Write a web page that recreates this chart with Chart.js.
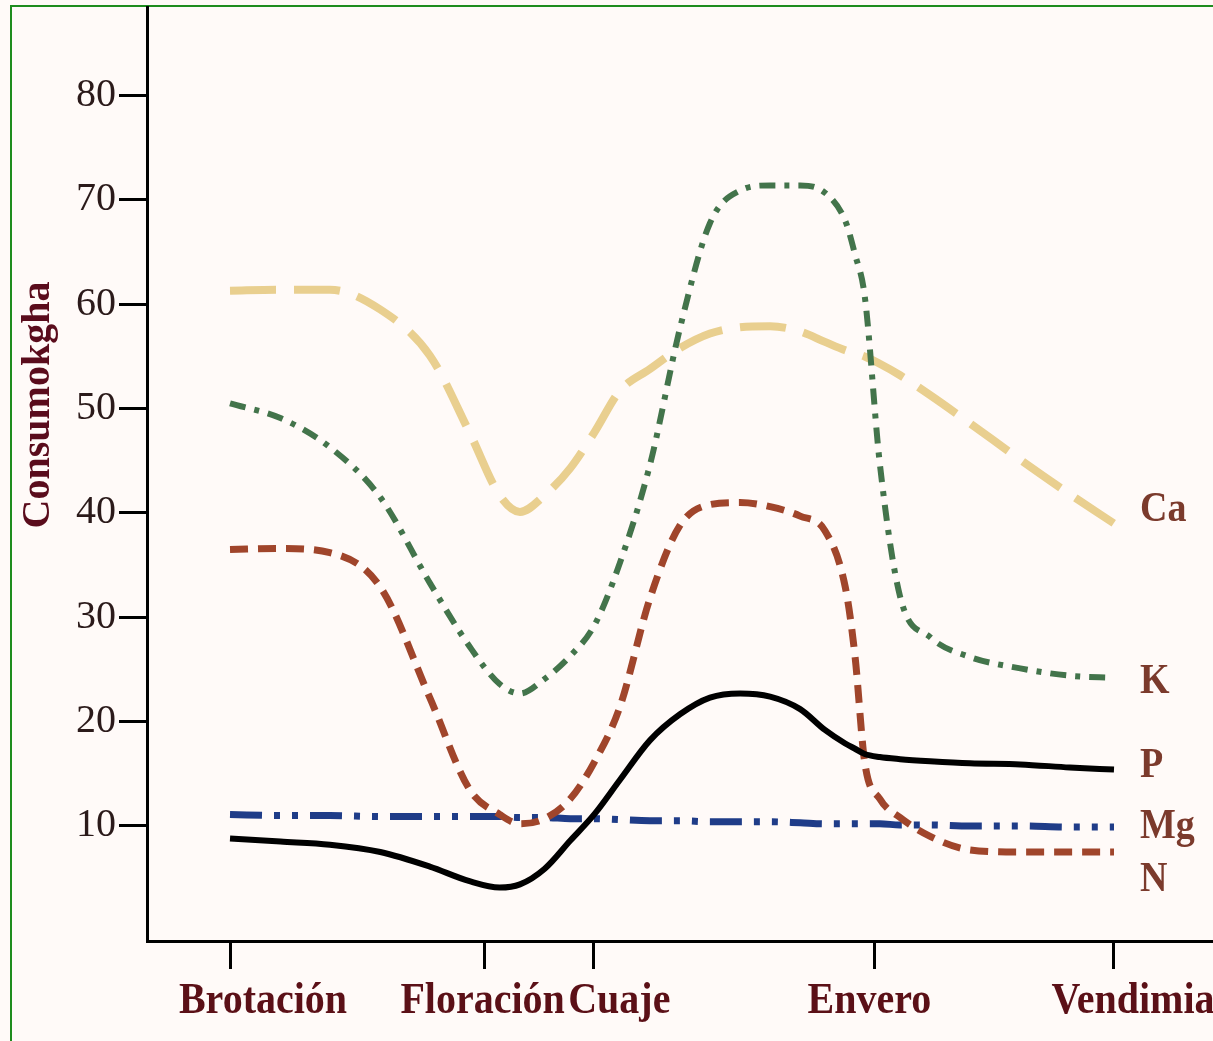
<!DOCTYPE html>
<html>
<head>
<meta charset="utf-8">
<title>Consumo de nutrientes</title>
<script src="https://cdn.jsdelivr.net/npm/chart.js@4.4.1/dist/chart.umd.min.js"></script>
<style>
  html, body { margin: 0; padding: 0; background: #fffaf8; }
  #mychart { display: block; }
</style>
</head>
<body>
<canvas id="mychart" width="1213" height="1041"></canvas>
<script>
//. stages of the cycle (x axis)
var stageNames = [ 'Brotación', 'Floración', 'Cuaje', 'Envero', 'Vendimia' ];
var stagePos = [ 0, 28.8, 41.1, 72.9, 100 ];
var yTicks = [ 10, 20, 30, 40, 50, 60, 70, 80 ];

//. sample positions along the cycle, shared by all series
var sampleX = [ 0, 5.7, 11.3, 17.0, 22.6, 27.1, 30.5, 32.8, 35.6, 38.5, 41.2, 44.1, 47.5, 50.9, 54.3,
  57.7, 61.1, 64.5, 67.3, 69.6, 70.7, 71.8, 73.5, 75.8, 79.2, 83.7, 89.4, 95.0, 100 ];

var caValues = [ 61.3, 61.4, 61.4, 59.5, 55.1, 47.7, 41.7, 40.1, 41.7, 44.3, 47.7, 51.7, 53.8, 55.8, 57.2,
  57.8, 57.9, 57.4, 56.4, 55.6, 55.3, 55.0, 54.3, 53.2, 51.3, 48.6, 45.1, 41.8, 39.0 ];
var kValues = [ 50.5, 49.1, 46.3, 41.5, 33.3, 27.2, 23.6, 22.7, 24.1, 26.3, 29.2, 35.2, 44.6, 57.7, 67.8,
  70.9, 71.4, 71.4, 70.7, 68.0, 64.8, 60.8, 44.8, 32.0, 28.1, 26.2, 25.1, 24.4, 24.2 ];
var nValues = [ 36.5, 36.6, 36.2, 32.9, 22.3, 13.5, 11.1, 10.2, 10.7, 12.6, 16.1, 21.4, 31.8, 38.8, 40.8,
  41.0, 40.6, 39.7, 38.3, 32.9, 26.3, 16.1, 12.6, 10.8, 9.0, 7.7, 7.5, 7.5, 7.5 ];
var pValues = [ 8.8, 8.5, 8.2, 7.5, 6.1, 4.7, 4.1, 4.4, 5.9, 8.6, 11.1, 14.4, 18.2, 20.7, 22.3,
  22.7, 22.4, 21.2, 19.2, 17.9, 17.4, 16.9, 16.6, 16.4, 16.2, 16.0, 15.9, 15.6, 15.4 ];
var mgValues = [ 11.1, 11.0, 11.0, 10.9, 10.9, 10.9, 10.9, 10.8, 10.8, 10.7, 10.7, 10.6, 10.5, 10.5, 10.4,
  10.4, 10.4, 10.3, 10.2, 10.2, 10.2, 10.2, 10.2, 10.1, 10.1, 10.0, 10.0, 9.9, 9.9 ];

var SERIF = '"Liberation Serif", "Times New Roman", serif';

//. small text offsets (px) for labels drawn by the plugin
var stageLabelShift = [ 33, -2, 26, -5, 19 ];
var seriesLabelShift = { 'Ca': -13, 'K': 4, 'P': -3, 'Mg': 0, 'N': 28 };

function toPoints( values ){
  var pts = [];
  for( var i = 0; i < values.length; i ++ ){
    pts.push( { x: sampleX[i], y: values[i] } );
  }
  return pts;
}

function makeSet( label, values, color, width, dash, order ){
  return {
    label: label,
    data: toPoints( values ),
    borderColor: color,
    borderWidth: width,
    borderDash: dash,
    borderCapStyle: 'butt',
    cubicInterpolationMode: 'monotone',
    pointRadius: 0,
    fill: false,
    order: order
  };
}

function drawStretched( ctx, text, x, y, sy ){
  ctx.save();
  ctx.translate( x, y );
  ctx.scale( 1, sy );
  ctx.fillText( text, 0, 0 );
  ctx.restore();
}

var decorPlugin = {
  id: 'decor',
  beforeDraw: function( chart ){
    var ctx = chart.ctx;
    ctx.save();
    ctx.fillStyle = '#fffaf8';
    ctx.fillRect( 0, 0, chart.width, chart.height );
    //. green frame
    ctx.fillStyle = '#1e8c1e';
    ctx.fillRect( 10, 5, 2, chart.height - 5 );
    ctx.fillRect( 10, 5, chart.width - 10, 2 );
    ctx.restore();
  },
  afterDraw: function( chart ){
    var ctx = chart.ctx;
    var xs = chart.scales.x;
    ctx.save();

    //. stage labels under the x axis
    ctx.font = 'bold 40px ' + SERIF;
    ctx.fillStyle = '#5b1017';
    ctx.textAlign = 'center';
    ctx.textBaseline = 'middle';
    for( var i = 0; i < stageNames.length; i ++ ){
      var px = xs.getPixelForValue( stagePos[i] ) + stageLabelShift[i];
      drawStretched( ctx, stageNames[i], px, 1001, 1.12 );
    }

    //. series names at the end of each line
    ctx.font = 'bold 38px ' + SERIF;
    ctx.fillStyle = '#7b3a2c';
    ctx.textAlign = 'left';
    chart.data.datasets.forEach( function( ds, idx ){
      var meta = chart.getDatasetMeta( idx );
      var last = meta.data[meta.data.length - 1];
      drawStretched( ctx, ds.label, last.x + 26, last.y + seriesLabelShift[ds.label], 1.1 );
    });

    //. y axis title
    ctx.font = 'bold 40px ' + SERIF;
    ctx.fillStyle = '#5a0c1c';
    ctx.textAlign = 'center';
    ctx.translate( 39, 405 );
    ctx.rotate( -Math.PI / 2 );
    ctx.fillText( 'Consumokgha', 0, 0 );
    ctx.restore();
  }
};

var ctx = document.getElementById( 'mychart' );
var chart = new Chart( ctx, {
  type: 'line',
  data: {
    datasets: [
      makeSet( 'Ca', caValues, '#e9cf8f', 8, [ 46, 18 ], 4 ),
      makeSet( 'K', kValues, '#43744b', 6, [ 16, 9, 5, 9 ], 1 ),
      makeSet( 'P', pValues, '#000000', 6, [], 0 ),
      makeSet( 'Mg', mgValues, '#1f3c88', 7, [ 32, 12, 6, 12, 6, 12 ], 3 ),
      makeSet( 'N', nValues, '#a0452b', 7, [ 18, 10 ], 2 )
    ]
  },
  options: {
    responsive: false,
    animation: false,
    devicePixelRatio: 1,
    layout: { padding: { top: 7, right: 0, bottom: 0, left: 0 } },
    plugins: {
      legend: { display: false },
      tooltip: { enabled: false }
    },
    scales: {
      x: {
        type: 'linear',
        min: -9.39,
        max: 111.2,
        afterBuildTicks: function( scale ){
          scale.ticks = stagePos.map( function( v ){ return { value: v }; } );
        },
        afterFit: function( scale ){
          scale.height = 100;
          scale.paddingLeft = 0;
          scale.paddingRight = 0;
        },
        ticks: { display: false },
        grid: { drawOnChartArea: false, drawTicks: true, tickLength: 28, color: '#000', lineWidth: 3 },
        border: { display: true, color: '#000', width: 3 }
      },
      y: {
        type: 'linear',
        min: -1.03,
        max: 88.5,
        afterBuildTicks: function( scale ){
          scale.ticks = yTicks.map( function( v ){ return { value: v }; } );
        },
        afterFit: function( scale ){
          scale.width = 147;
          scale.paddingTop = 0;
          scale.paddingBottom = 0;
        },
        ticks: {
          font: { family: SERIF, size: 40 },
          color: '#2b1a1a',
          padding: 3
        },
        grid: { drawOnChartArea: false, drawTicks: true, tickLength: 28, color: '#000', lineWidth: 3 },
        border: { display: true, color: '#000', width: 3 }
      }
    }
  },
  plugins: [ decorPlugin ]
});
</script>
</body>
</html>
